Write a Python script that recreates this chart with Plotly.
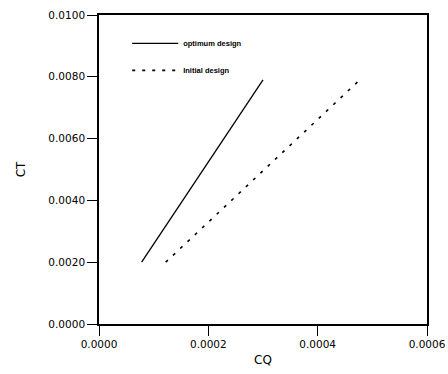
import plotly.graph_objects as go

# Data
opt_cq = [0.000078, 0.000300]
opt_ct = [0.0020, 0.0079]
init_cq = [0.000122, 0.000477]
init_ct = [0.0020, 0.0079]

x_ticks = [0.0, 0.0002, 0.0004, 0.0006]
x_labels = ["0.0000", "0.0002", "0.0004", "0.0006"]
y_ticks = [0.0, 0.002, 0.004, 0.006, 0.008, 0.010]
y_labels = ["0.0000", "0.0020", "0.0040", "0.0060", "0.0080", "0.0100"]

fig = go.Figure()
fig.add_trace(go.Scatter(x=opt_cq, y=opt_ct, mode="lines", name="optimum design",
                         legendgroup="a",
                         line=dict(color="black", width=1.3)))
fig.add_trace(go.Scatter(x=init_cq, y=init_ct, mode="lines", name="Initial design",
                         legendgroup="b",
                         line=dict(color="black", width=1.6, dash="3px,7px")))

tickfont = dict(family="DejaVu Sans, Verdana, sans-serif", size=10.5, color="black")
fig.update_layout(
    width=448, height=374,
    margin=dict(l=99, r=21, t=15, b=50),
    paper_bgcolor="white", plot_bgcolor="white",
    font=dict(family="DejaVu Sans, Arial, sans-serif", color="black"),
    showlegend=True,
    legend=dict(x=0.086, y=0.955, xanchor="left", yanchor="top",
                bgcolor="rgba(0,0,0,0)",
                font=dict(family="Liberation Sans, Arial, sans-serif", size=7.5,
                          color="black", weight="bold"),
                itemwidth=46, traceorder="grouped", tracegroupgap=8),
    xaxis=dict(range=[0, 0.0006], tickvals=x_ticks, ticktext=x_labels,
               ticks="outside", ticklen=10, tickwidth=1.2, tickcolor="black",
               showline=True, linecolor="black", linewidth=1.6, mirror=True,
               showgrid=False, zeroline=False, tickfont=tickfont, automargin=False,
               title=dict(text="CQ", font=dict(size=12), standoff=6)),
    yaxis=dict(range=[0, 0.0100], tickvals=y_ticks, ticktext=y_labels,
               ticks="outside", ticklen=10, tickwidth=1.2, tickcolor="black",
               showline=True, linecolor="black", linewidth=1.6, mirror=True,
               showgrid=False, zeroline=False, tickfont=tickfont, automargin=False,
               title=dict(text="CT", font=dict(size=12), standoff=20)),
)

fig.write_html("out.html")
